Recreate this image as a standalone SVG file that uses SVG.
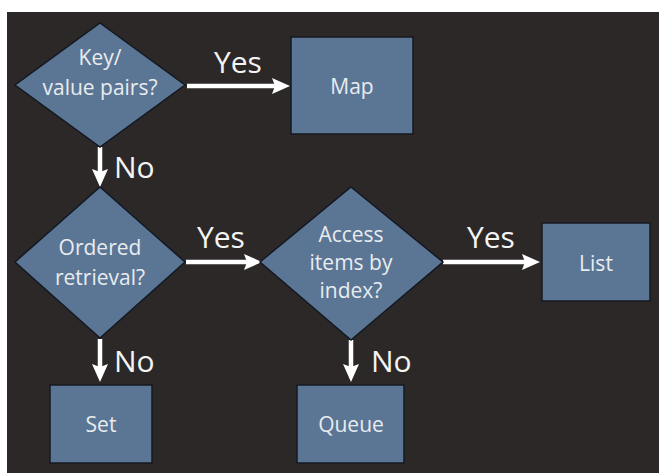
<svg xmlns="http://www.w3.org/2000/svg" width="659" height="473" viewBox="0 0 659 473">
  <defs>
    <marker id="ah" markerUnits="userSpaceOnUse" markerWidth="18" markerHeight="16" viewBox="0 0 18 16" refX="8" refY="8" orient="auto">
      <path d="M0,0 L18,8 L0,16 L3,8 Z" fill="#ffffff"/>
    </marker>
  </defs>
  <style>
    .shape { fill: #5b7695; stroke: #141821; stroke-width: 1.5; }
    .lbl { font-family: "Open Sans", "Noto Sans", sans-serif; font-size: 21px; fill: #e8ecef; text-anchor: middle; }
    .edge { stroke: #ffffff; stroke-width: 4.5; fill: none; marker-end: url(#ah); }
    .elbl { font-family: "Open Sans", "Noto Sans", sans-serif; font-size: 30px; fill: #f4f4f4; }
  </style>
  <rect x="0" y="0" width="659" height="473" fill="#ffffff"/>
  <rect x="7" y="12" width="652" height="461" fill="#2d2828"/>

  <g id="connectors">
    <line class="edge" x1="187" y1="86" x2="280" y2="86"/>
    <text class="elbl" x="214" y="73">Yes</text>
    <line class="edge" x1="100" y1="147" x2="100" y2="177"/>
    <text class="elbl" x="114" y="178">No</text>
    <line class="edge" x1="186" y1="262" x2="252" y2="262"/>
    <text class="elbl" x="197" y="248">Yes</text>
    <line class="edge" x1="443" y1="262" x2="530" y2="262"/>
    <text class="elbl" x="467" y="248">Yes</text>
    <line class="edge" x1="100" y1="339" x2="100" y2="372"/>
    <text class="elbl" x="114" y="372">No</text>
    <line class="edge" x1="351" y1="340" x2="351" y2="372"/>
    <text class="elbl" x="371" y="372">No</text>
  </g>

  <g id="key-value">
    <polygon class="shape" points="100,23 185,85 100,147 15,85"/>
    <text class="lbl" x="100" y="65">Key/</text>
    <text class="lbl" x="100" y="95">value pairs?</text>
  </g>
  <g id="map">
    <rect class="shape" x="291" y="37" width="122" height="97"/>
    <text class="lbl" x="352" y="94">Map</text>
  </g>
  <g id="ordered">
    <polygon class="shape" points="100,187 185,262 100,338 15,262"/>
    <text class="lbl" x="100" y="255">Ordered</text>
    <text class="lbl" x="100" y="285">retrieval?</text>
  </g>
  <g id="access">
    <polygon class="shape" points="351,187 443,262 351,340 260,262"/>
    <text class="lbl" x="351" y="242">Access</text>
    <text class="lbl" x="351" y="270">items by</text>
    <text class="lbl" x="351" y="298">index?</text>
  </g>
  <g id="list">
    <rect class="shape" x="542" y="223" width="108" height="78"/>
    <text class="lbl" x="596" y="271">List</text>
  </g>
  <g id="set">
    <rect class="shape" x="50" y="385" width="102" height="78"/>
    <text class="lbl" x="101" y="432">Set</text>
  </g>
  <g id="queue">
    <rect class="shape" x="297" y="385" width="107" height="78"/>
    <text class="lbl" x="351" y="432">Queue</text>
  </g>
</svg>
